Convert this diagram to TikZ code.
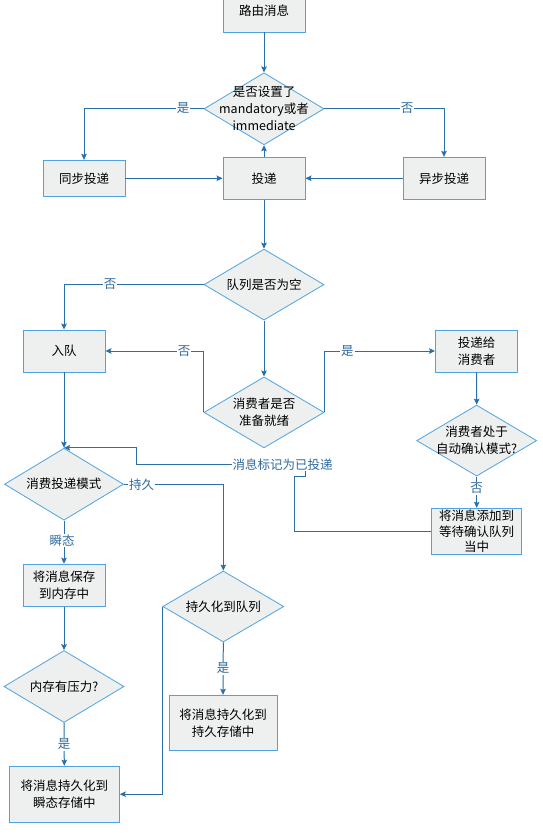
\documentclass[tikz,border=0pt]{standalone}
\usepackage{fontspec}
\setmainfont{Noto Sans CJK SC}
\usetikzlibrary{arrows.meta,shapes.geometric}
\definecolor{boxfill}{HTML}{EEF0EF}
\definecolor{boxline}{HTML}{4FA3E0}
\definecolor{connc}{HTML}{2A6FA8}
\definecolor{lblc}{HTML}{2F6A9E}
\begin{document}
\begin{tikzpicture}[x=1pt,y=-1pt,
  font=\fontsize{12.5}{17}\selectfont,
  proc/.style={rectangle, draw=boxline, fill=boxfill, line width=0.9pt, align=center, inner sep=0pt},
  dia/.style={diamond, draw=boxline, fill=boxfill, line width=0.8pt, inner sep=0pt, minimum width=120pt, minimum height=72pt},
  diatext/.style={align=center, inner sep=0pt},
  conn/.style={draw=connc, line width=1pt, -{Stealth[length=6pt,width=5.5pt,inset=1pt]}},
  lab/.style={fill=white, text=lblc, inner sep=1pt}
]
\useasboundingbox (0,0) rectangle (543,833);
\fill[white] (0,0) rectangle (543,833);

% process boxes
\node[proc, minimum width=82pt, minimum height=42pt] (route) at (264,11) {路由消息};
\node[proc, minimum width=82pt, minimum height=36pt] (sync) at (84,178.3) {同步投递};
\node[proc, minimum width=82pt, minimum height=42pt] (deliver) at (264,178.3) {投递};
\node[proc, minimum width=82pt, minimum height=42pt] (async) at (444,178.3) {异步投递};
\node[proc, minimum width=82pt, minimum height=42pt] (enq) at (64,351) {入队};
\node[proc, minimum width=82pt, minimum height=42pt] (toc) at (476.5,351) {投递给\\消费者};
\node[proc, minimum width=90pt, minimum height=46pt, font=\fontsize{12.5}{15.5}\selectfont] (wait) at (476.7,531.3) {将消息添加到\\等待确认队列\\当中};
\node[proc, minimum width=82pt, minimum height=42pt] (save) at (64,585.2) {将消息保存\\到内存中};
\node[proc, minimum width=108pt, minimum height=55pt] (pstore) at (223,722.8) {将消息持久化到\\持久存储中};
\node[proc, minimum width=110pt, minimum height=56pt] (tstore) at (64.3,794.2) {将消息持久化到\\瞬态存储中};

% decisions
\node[dia] (d1) at (264,108.8) {};
\node[diatext] (d1t) at (264,108.8) {是否设置了\\mandatory或者\\immediate};
\node[dia, minimum height=71pt] (d2) at (264,284.6) {};
\node[diatext] (d2t) at (264,284.6) {队列是否为空};
\node[dia, minimum height=71pt] (d3) at (264,412.4) {};
\node[diatext] (d3t) at (264,412.4) {消费者是否\\准备就绪};
\node[dia, minimum height=71pt] (d4) at (476.7,440.6) {};
\node[diatext] (d4t) at (476.7,440.6) {消费者处于\\自动确认模式?};
\node[dia, minimum width=119pt] (d5) at (64,484.2) {};
\node[diatext] (d5t) at (64,484.2) {消费投递模式};
\node[dia, minimum width=121pt, minimum height=71pt] (d6) at (223.3,606.5) {};
\node[diatext] (d6t) at (223.3,606.5) {持久化到队列};
\node[dia] (d7) at (64,686.5) {};
\node[diatext] (d7t) at (64,686.5) {内存有压力?};

% connectors
\draw[conn] (route.south) -- (d1.north);
\draw[conn] (d1.west) -| (sync.north);
\draw[conn] (d1.east) -| (async.north);
\draw[conn] (sync.east) -- (deliver.west);
\draw[conn] (async.west) -- (deliver.east);
\draw[conn] (deliver.north) -- (d1.south);
\draw[conn] (deliver.south) -- (d2.north);
\draw[conn] (d2.west) -| (enq.north);
\draw[conn] (d2.south) -- (d3.north);
\draw[conn] (d3.west) |- (enq.east);
\draw[conn] (d3.east) |- (toc.west);
\draw[conn] (toc.south) -- (d4.north);
\draw[conn] (d4.south) -- (wait.north);
\coordinate (fb1) at (294,476);
\coordinate (fb2) at (305,464.3);
\coordinate (fb3) at (136,464.3);
\draw[conn] (wait.west) -| (fb1) -| (fb2) -- (fb3) |- (d5.north);
\draw[conn] (enq.south) -- (d5.north);
\draw[conn] (d5.east) -| (d6.north);
\draw[conn] (d5.south) -- (save.north);
\draw[conn] (save.south) -- (d7.north);
\draw[conn] (d7.south) -- (tstore.north);
\draw[conn] (d6.south) -- (pstore.north);
\draw[conn] (d6.west) |- (tstore.east);

% labels
\node[lab] (l1) at (183,108.3) {是};
\node[lab] (l2) at (407,108.3) {否};
\node[lab] (l3) at (110,284.6) {否};
\node[lab] (l4) at (184,351) {否};
\node[lab] (l5) at (347.4,351) {是};
\node[lab] (l6) at (476.7,488.5) {否};
\node[lab] (l7) at (282.5,464.3) {消息标记为已投递};
\node[lab] (l8) at (141.7,485) {持久};
\node[lab] (l9) at (62,540.7) {瞬态};
\node[lab] (l10) at (223,668.5) {是};
\node[lab] (l11) at (64,744) {是};
\end{tikzpicture}
\end{document}
